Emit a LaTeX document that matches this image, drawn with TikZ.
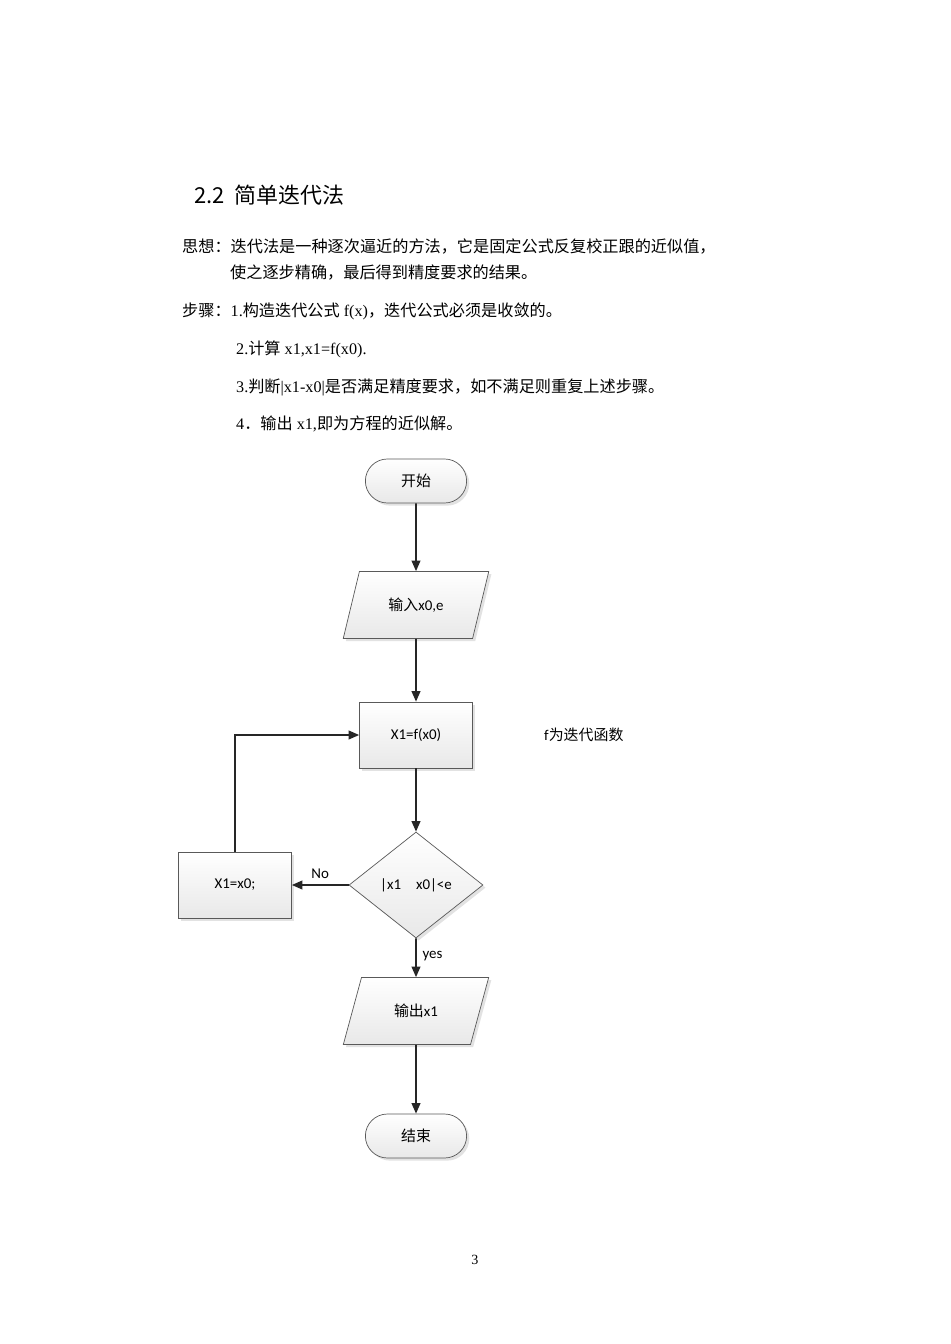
\documentclass[tikz,border=0pt]{standalone}
\usepackage{fontspec}
\setmainfont{Liberation Serif}
\newfontfamily\cjk{Noto Sans CJK SC}
\newfontfamily\calib{Carlito}
\usetikzlibrary{shapes.geometric,shapes.misc,arrows.meta,shadows}

\tikzset{
    box/.style={draw=gray!70!black, top color=white, bottom color=gray!18,
        drop shadow={shadow xshift=1.5pt, shadow yshift=-1.5pt, fill=gray!45},
        font=\calib\fontsize{8.5}{10}\selectfont},
    proc/.style={box, rectangle, minimum width=2.26cm, minimum height=1.32cm},
    term/.style={box, rounded rectangle, minimum width=2.26cm, minimum height=0.88cm},
    io/.style={box, trapezium, trapezium left angle=70, trapezium right angle=110,
        trapezium stretches, minimum width=2.92cm, minimum height=1.34cm},
    test/.style={box, diamond, aspect=1.26, minimum width=2.68cm, minimum height=2.12cm, inner sep=0pt},
    flow/.style={draw=gray!30!black, line width=0.9pt, -{Triangle[length=6pt,width=5pt]}},
    body/.style={anchor=west, font=\fontsize{9.2}{11}\selectfont},
    lbl/.style={font=\calib\fontsize{8.5}{10}\selectfont}
}

\begin{document}
\begin{tikzpicture}[x=0.02cm, y=-0.02cm]
    \useasboundingbox (0,0) rectangle (950,1344);

    % heading and text
    \node[anchor=west, font=\cjk\fontsize{12.5}{14}\selectfont] (title) at (188,195) {2.2\ \ 简单迭代法};
    \node[body] (idea1) at (176,247) {{\cjk 思想：迭代法是一种逐次逼近的方法，它是固定公式反复校正跟的近似值，}};
    \node[body] (idea2) at (224,273) {{\cjk 使之逐步精确，最后得到精度要求的结果。}};
    \node[body] (step1) at (176,311) {{\cjk 步骤：}1.{\cjk 构造迭代公式} f(x){\cjk ，迭代公式必须是收敛的。}};
    \node[body] (step2) at (230,349) {2.{\cjk 计算} x1,x1=f(x0).};
    \node[body] (step3) at (230,387) {3.{\cjk 判断}|x1-x0|{\cjk 是否满足精度要求，如不满足则重复上述步骤。}};
    \node[body] (step4) at (230,424) {4{\cjk ．输出} x1,{\cjk 即为方程的近似解。}};

    % flowchart
    \node[term] (start) at (416,481) {\cjk 开始};
    \node[io] (input) at (416,605) {{\cjk 输入}x0,e};
    \node[proc] (iter) at (416,735) {X1=f(x0)};
    \node[test] (check) at (416,885) {|x1\quad x0|<e};
    \node[proc] (reset) at (235,885) {X1=x0;};
    \node[io] (output) at (416,1011) {{\cjk 输出}x1};
    \node[term] (stop) at (416,1136) {\cjk 结束};
    \node[lbl, anchor=west] (note) at (538,735) {f{\cjk 为迭代函数}};

    \draw[flow] (start) -- (input);
    \draw[flow] (input) -- (iter);
    \draw[flow] (iter) -- (check);
    \draw[flow] (check) -- node[lbl, above] {No} (reset);
    \draw[flow] (reset.north) |- (iter.west);
    \draw[flow] (check) -- node[lbl, right, pos=0.45] {yes} (output);
    \draw[flow] (output) -- (stop);

    \node[font=\fontsize{8}{10}\selectfont] (page) at (475,1260) {3};
\end{tikzpicture}
\end{document}
